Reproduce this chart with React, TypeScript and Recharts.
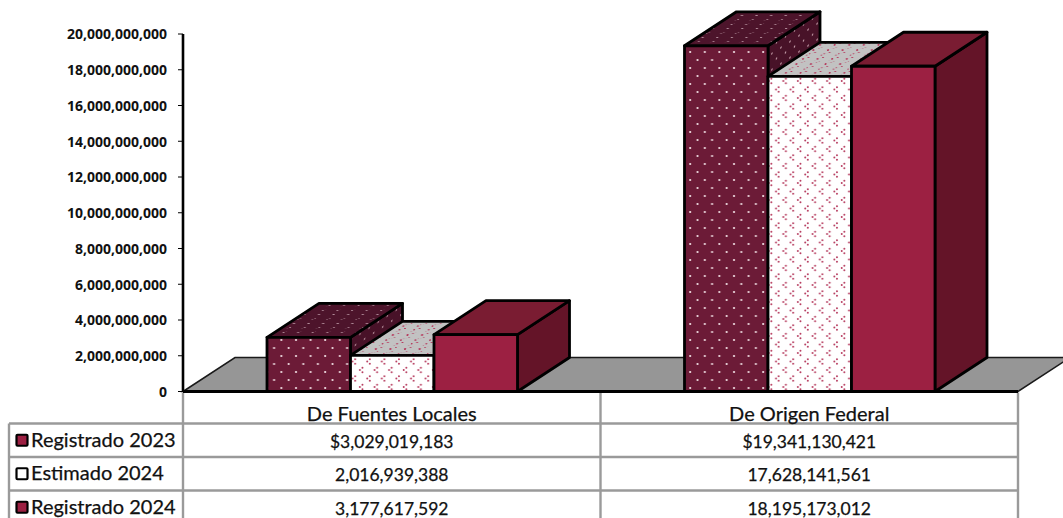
import React from "react";
import { BarChart, Bar, XAxis, YAxis, usePlotArea } from "recharts";

const categories = ["De Fuentes Locales", "De Origen Federal"];
const registrado2023 = [3029019183, 19341130421];
const estimado2024 = [2016939388, 17628141561];
const registrado2024 = [3177617592, 18195173012];
const seriesNames = ["Registrado 2023", "Estimado 2024", "Registrado 2024"];
const yTicks = [0, 2e9, 4e9, 6e9, 8e9, 10e9, 12e9, 14e9, 16e9, 18e9, 20e9];

const rows = [registrado2023, estimado2024, registrado2024];
const data = categories.map((name, i) => ({
  name,
  registrado2023: registrado2023[i],
  estimado2024: estimado2024[i],
  registrado2024: registrado2024[i],
}));

const DX = 52;
const DY = 34;
const ROW_H = 33.5;
const FONT = "Lato, sans-serif";
const GRID = "#9a9a9a";
const fmt = (v: number) => v.toLocaleString("en-US");

function box(x: number, y: number, w: number, h: number, front: string, top: string, side: string) {
  const b = y + h;
  const r = x + w;
  return (
    <g stroke="#000" strokeWidth={2.8} strokeLinejoin="round">
      <path d={`M${r},${y} L${r + DX},${y - DY} L${r + DX},${b - DY} L${r},${b} Z`} fill={side} />
      <path d={`M${x},${y} L${r},${y} L${r + DX},${y - DY} L${x + DX},${y - DY} Z`} fill={top} />
      <rect x={x} y={y} width={w} height={h} fill={front} />
    </g>
  );
}

const shape = (front: string, top: string, side: string) => (p: any) => box(p.x, p.y, p.width, p.height, front, top, side);

function Defs() {
  const dots = (id: string, bg: string, dot: string, t?: string) => (
    <pattern id={id} width={14.6} height={16} patternUnits="userSpaceOnUse" patternTransform={t}>
      <rect width={14.6} height={16} fill={bg} />
      <circle cx={4} cy={4} r={1.1} fill={dot} />
      <circle cx={11.3} cy={12} r={1.1} fill={dot} />
    </pattern>
  );
  const motif = (cx: number, cy: number) => (
    <g fill="#b5385c">
      <circle cx={cx - 1.8} cy={cy} r={0.95} />
      <circle cx={cx + 0.8} cy={cy - 2.2} r={0.95} />
      <circle cx={cx + 0.8} cy={cy + 2.2} r={0.95} />
    </g>
  );
  const chev = (id: string, bg: string, t?: string) => (
    <pattern id={id} width={14.6} height={17} patternUnits="userSpaceOnUse" patternTransform={t}>
      <rect width={14.6} height={17} fill={bg} />
      {motif(4, 4.5)}
      {motif(11.3, 13)}
    </pattern>
  );
  return (
    <defs>
      {dots("dotFront", "#6c1b37", "#f4e4e8")}
      {dots("dotTop", "#4d142b", "#b08a98", "matrix(1 0 -1.53 0.55 0 0)")}
      {dots("dotSide", "#481228", "#d0aab5", "matrix(0.62 -0.41 0 1 0 0)")}
      {chev("chevFront", "#ffffff")}
      {chev("chevTop", "#c2c2c2", "matrix(1 0 -1.53 0.55 0 0)")}
    </defs>
  );
}

function Floor() {
  const p = usePlotArea();
  if (!p) return null;
  const y = p.y + p.height;
  const x = p.x;
  const r = p.x + p.width;
  return (
    <path
      d={`M${x},${y} L${x + DX},${y - DY} L${r + DX},${y - DY} L${r},${y} Z`}
      fill="#969696"
      stroke="#1a1a1a"
      strokeWidth={1.5}
    />
  );
}

function Table() {
  const p = usePlotArea();
  if (!p) return null;
  const y0 = p.y + p.height;
  const x = p.x;
  const r = p.x + p.width;
  const m = x + p.width / 2;
  const lines = [0, 1, 2].map((i) => y0 + 32 + ROW_H * i);
  const left = 9;
  const bottom = 518;
  return (
    <g>
      <g stroke={GRID} strokeWidth={2.4} fill="none">
        {[x, m, r].map((v) => (
          <line key={v} x1={v} x2={v} y1={y0 + 1} y2={bottom} />
        ))}
        <line x1={left} x2={left} y1={lines[0]} y2={bottom} />
        {lines.map((v) => (
          <line key={v} x1={left} x2={r} y1={v} y2={v} />
        ))}
      </g>
      {seriesNames.map((name, i) => {
        const cy = lines[0] + ROW_H * (i + 0.5);
        return (
          <g key={name}>
            <rect x={16.5} y={cy - 5.5} width={11} height={11} fill={i === 1 ? "#fff" : "#9c2042"} stroke="#000" strokeWidth={2.2} rx={1} />
            <text x={31} y={cy + 6.5} fontFamily={FONT} fontSize={20} fill="#111" stroke="#111" strokeWidth={0.25}>{name}</text>
          </g>
        );
      })}
    </g>
  );
}

function CategoryTick({ x, y, payload, index }: any) {
  return (
    <g fontFamily={FONT} fill="#111" stroke="#111" strokeWidth={0.25} textAnchor="middle">
      <text x={x} y={y + 21} fontSize={20}>{payload.value}</text>
      {rows.map((row, i) => (
        <text key={i} x={x} y={y + 48 + ROW_H * i} fontSize={17.5}>
          {(i === 0 ? "$" : "") + fmt(row[index])}
        </text>
      ))}
    </g>
  );
}

export default function App() {
  return (
    <div style={{ position: "absolute", left: 0, top: 0, width: 1063, height: 518, overflow: "hidden", background: "#fff" }}>
      <BarChart
        width={1063}
        height={518}
        data={data}
        margin={{ top: 34, right: 45, bottom: 0, left: 0 }}
        barGap={0}
        barSize={83.5}
      >
        <Defs />
        <Floor />
        <Table />
        <XAxis
          dataKey="name"
          height={126.5}
          axisLine={{ stroke: "#000", strokeWidth: 2.8 }}
          tickLine={false}
          tick={<CategoryTick />}
          interval={0}
        />
        <YAxis
          width={183}
          domain={[0, 20e9]}
          ticks={yTicks}
          tickFormatter={fmt}
          interval={0}
          axisLine={{ stroke: "#000", strokeWidth: 2.6 }}
          tickLine={{ stroke: "#000", strokeWidth: 1 }}
          tickSize={5}
          tickMargin={11}
          tick={{ fontFamily: "'Open Sans', sans-serif", fontWeight: 700, fontSize: 14, fill: "#111", dy: 0.5 }}
        />
        <Bar dataKey="registrado2023" isAnimationActive={false} shape={shape("url(#dotFront)", "url(#dotTop)", "url(#dotSide)")} />
        <Bar dataKey="estimado2024" isAnimationActive={false} shape={shape("url(#chevFront)", "url(#chevTop)", "#4a1329")} />
        <Bar dataKey="registrado2024" isAnimationActive={false} shape={shape("#9c2042", "#7a1c32", "#641428")} />
      </BarChart>
    </div>
  );
}
